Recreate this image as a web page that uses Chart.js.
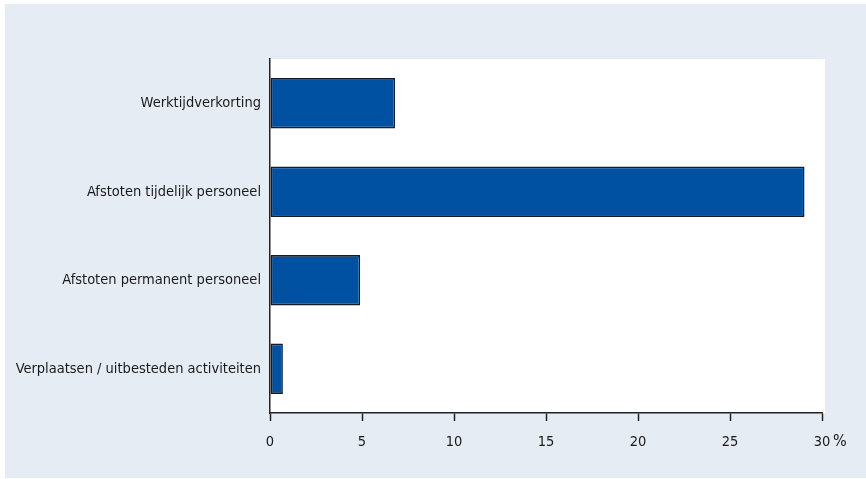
<!DOCTYPE html>
<html>
<head>
<meta charset="utf-8">
<script src="https://cdn.jsdelivr.net/npm/chart.js@4/dist/chart.umd.min.js"></script>
<style>
  html, body { margin: 0; padding: 0; background: #ffffff; }
  canvas { display: block; }
</style>
</head>
<body>
<canvas id="chart" width="866" height="479"></canvas>
<script>
// Maatregelen en aandeel bedrijven (%)
const categories = [
  'Werktijdverkorting',
  'Afstoten tijdelijk personeel',
  'Afstoten permanent personeel',
  'Verplaatsen / uitbesteden activiteiten'
];
const shares = [6.8, 29.05, 4.9, 0.7];
const xTicks = [0, 5, 10, 15, 20, 25, 30];
const unitLabel = '%';

const FONT = "'Liberation Sans Narrow', 'DejaVu Sans Condensed', 'Noto Sans', sans-serif";
const PANEL = '#e5ecf4';
const TEXT = '#1a1a1a';

// Light panel behind everything, white plot area
const panelPlugin = {
  id: 'panel',
  beforeDraw(chart) {
    const { ctx, chartArea } = chart;
    ctx.save();
    ctx.fillStyle = '#ffffff';
    ctx.fillRect(0, 0, chart.width, chart.height);
    ctx.fillStyle = PANEL;
    ctx.fillRect(5, 4, chart.width - 5, chart.height - 5);
    ctx.fillStyle = '#ffffff';
    ctx.fillRect(chartArea.left, chartArea.top, chartArea.right - chartArea.left + 3, chartArea.bottom - chartArea.top);
    ctx.restore();
  },
  afterDraw(chart) {
    // unit after the last tick label
    const { ctx } = chart;
    const xs = chart.scales.x;
    const last = xTicks[xTicks.length - 1];
    ctx.save();
    ctx.font = '16px ' + FONT;
    ctx.fillStyle = TEXT;
    ctx.textAlign = 'left';
    ctx.textBaseline = 'middle';
    ctx.fillText(unitLabel, xs.getPixelForValue(last) + 11, 442);
    ctx.restore();
  }
};

new Chart(document.getElementById('chart'), {
  type: 'bar',
  data: {
    labels: categories,
    datasets: [{
      data: shares,
      backgroundColor: '#0051a2',
      borderColor: '#151c2c',
      borderWidth: 1.6,
      borderSkipped: false,
      categoryPercentage: 0.57,
      barPercentage: 1.0
    }]
  },
  options: {
    indexAxis: 'y',
    responsive: false,
    animation: false,
    devicePixelRatio: 1,
    layout: { padding: { top: 59, right: 44, left: 0, bottom: 0 } },
    plugins: {
      legend: { display: false },
      tooltip: { enabled: false }
    },
    scales: {
      x: {
        type: 'linear',
        position: 'bottom',
        min: 0,
        max: 30,
        afterBuildTicks(scale) {
          scale.ticks = xTicks.map(v => ({ value: v }));
        },
        afterFit(scale) { scale.height = 479 - 413; },
        grid: {
          drawOnChartArea: false,
          drawTicks: true,
          tickLength: 8,
          tickWidth: 1.5,
          tickColor: '#222222'
        },
        border: { display: true, color: '#222222', width: 1.5 },
        ticks: {
          padding: 13,
          color: TEXT,
          font: { family: FONT, size: 14.5 },
          maxRotation: 0
        }
      },
      y: {
        afterFit(scale) { scale.width = 270; },
        grid: { display: false, drawTicks: false },
        border: { display: true, color: '#222222', width: 1.5 },
        ticks: {
          padding: 9,
          color: TEXT,
          font: { family: FONT, size: 14.5 }
        }
      }
    }
  },
  plugins: [panelPlugin]
});
</script>
</body>
</html>
